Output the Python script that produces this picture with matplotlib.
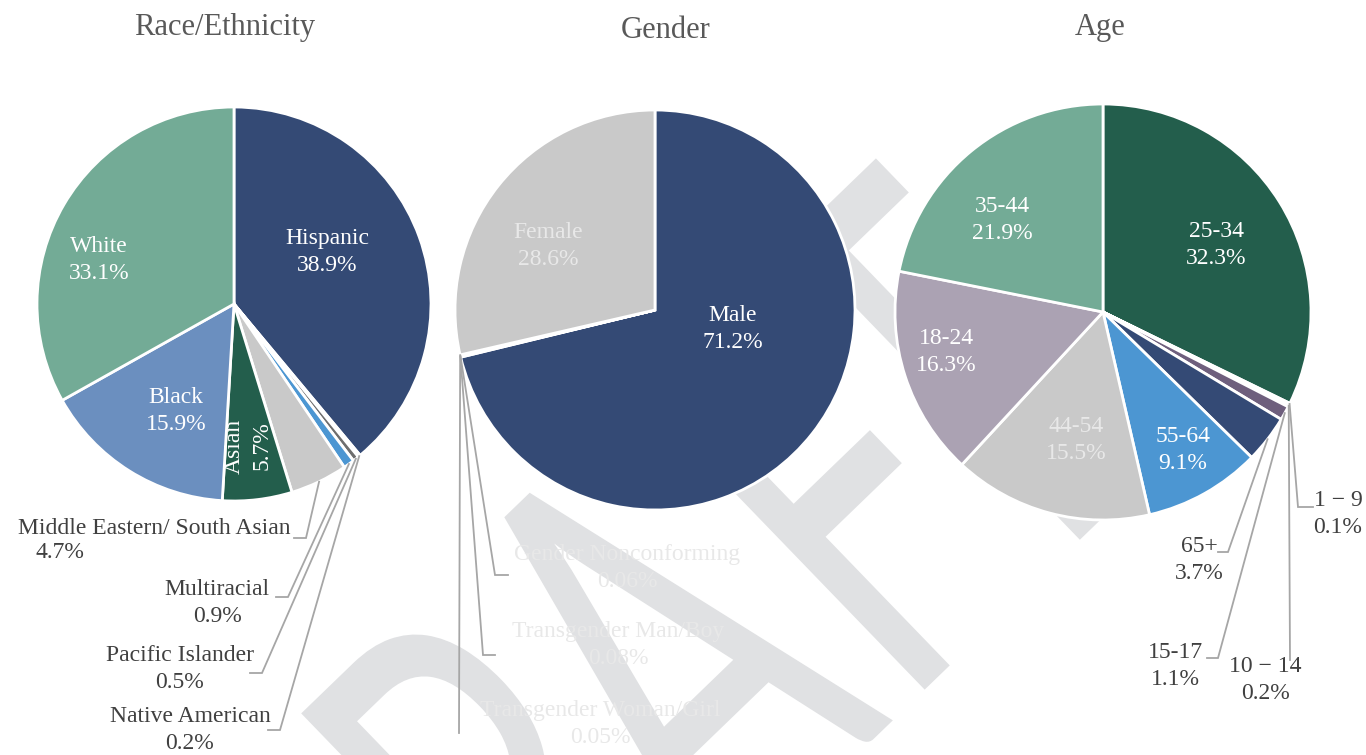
"""
Three pie charts: Race/Ethnicity, Gender and Age breakdown, with a DRAFT watermark.
"""

import numpy as np
import matplotlib.pyplot as plt
from matplotlib.textpath import TextPath
from matplotlib.font_manager import FontProperties
from matplotlib.patches import PathPatch
from matplotlib.transforms import Affine2D

W, H = 1366, 755
OUTPUT_PATH = "out.png"

plt.rcParams["font.family"] = ["Liberation Serif", "DejaVu Serif"]

# ---- data -----------------------------------------------------------------
RACE_LABELS = ["Hispanic", "Native American", "Pacific Islander", "Multiracial",
               "Middle Eastern/ South Asian", "Asian", "Black", "White"]
RACE_VALUES = [38.9, 0.2, 0.5, 0.9, 4.7, 5.7, 15.9, 33.1]
RACE_COLORS = ["#344a75", "#3a3a3a", "#6e6e6e", "#4c96d2",
               "#c9c9c9", "#235e4c", "#6b8fbf", "#73ab96"]

GENDER_LABELS = ["Male", "Gender Nonconforming", "Transgender Man/Boy",
                 "Transgender Woman/Girl", "Female"]
GENDER_VALUES = [71.2, 0.06, 0.08, 0.05, 28.6]
GENDER_COLORS = ["#344a75", "#a5a5a5", "#7f7f7f", "#5a5a5a", "#c9c9c9"]

AGE_LABELS = ["25-34", "1 \u2212 9", "10 \u2212 14", "15-17", "65+",
              "55-64", "44-54", "18-24", "35-44"]
AGE_VALUES = [32.3, 0.1, 0.2, 1.1, 3.7, 9.1, 15.5, 16.3, 21.9]
AGE_COLORS = ["#235e4c", "#c9c9c9", "#7f7f7f", "#6e5f7d", "#344a75",
              "#4c96d2", "#c9c9c9", "#aba2b3", "#73ab96"]

WATERMARK = "DRAFT"

# ---- layout (image pixel coords, y measured from top) ----------------------
LIGHT = "#e8e8e8"
DARK = "#404040"
LEADER = "#a6a6a6"

# ("in", x, y, color, rotation) or ("out", elbow, end, x, y[, color])
RACE_LAYOUT = [
    ("in", 327, 252, "white", 0),
    ("out", (280, 730), (268, 730), 190, 730),
    ("out", (262, 673), (250, 673), 180, 669),
    ("out", (288, 597), (276, 597), 217, 603),
    ("me", (306, 538), (294, 538), 0, 0),
    ("in", 248, 446, "white", 90),
    ("in", 176, 411, "white", 0),
    ("in", 99, 260, "white", 0),
]
GENDER_LAYOUT = [
    ("in", 733, 329, "white", 0),
    ("out", (495, 575), (508, 575), 627, 568, LIGHT),
    ("out", (483, 655), (495, 655), 618, 645, LIGHT),
    ("out", (459, 733), (459, 733), 600, 724, LIGHT),
    ("in", 548, 246, LIGHT, 0),
]
AGE_LAYOUT = [
    ("in", 1216, 245, "white", 0),
    ("out", (1298, 507), (1313, 507), 1338, 514),
    ("out", (1290, 660), (1290, 660), 1265, 680),
    ("out", (1218, 658), (1207, 658), 1175, 666),
    ("out", (1228, 552), (1218, 552), 1199, 560),
    ("in", 1183, 450, "white", 0),
    ("in", 1076, 440, LIGHT, 0),
    ("in", 946, 352, "white", 0),
    ("in", 1002, 220, "white", 0),
]

# watermark letters: (anchor, offset along baseline from the A apex, px)
WM_PLACES = [("left", -580), ("left", -300), ("center", 0),
             ("left", 165), ("center", 398)]

FS = 17
LS = 1.4


def Y(v):
    return H - v


def draw_pie(ax, title, title_pos, labels, values, colors, layout,
             center, radius, decimals):
    wedges, _ = ax.pie(values, colors=colors, startangle=90, counterclock=False,
                       center=(center[0], Y(center[1])), radius=radius, frame=True,
                       wedgeprops=dict(edgecolor="white", linewidth=2.0, zorder=2))
    ax.text(title_pos[0], Y(title_pos[1]), title, fontsize=22, color="#595959",
            ha="center", va="center", zorder=5)

    for w, lab, val, spec in zip(wedges, labels, values, layout):
        pct = f"{val:.{decimals if val < 1 else 1}f}%"
        kind = spec[0]
        if kind == "in":
            _, x, y, col, rot = spec
            ax.text(x, Y(y), f"{lab}\n{pct}", fontsize=FS, color=col, ha="center",
                    va="center", rotation=rot, linespacing=LS, zorder=5)
            continue
        mid = np.deg2rad((w.theta1 + w.theta2) / 2)
        sx = center[0] + radius * np.cos(mid)
        sy = Y(center[1]) + radius * np.sin(mid)
        elbow, end = spec[1], spec[2]
        ax.plot([sx, elbow[0], end[0]], [sy, Y(elbow[1]), Y(end[1])],
                color=LEADER, lw=1.3, zorder=4, solid_joinstyle="miter")
        if kind == "me":
            ax.text(291, Y(528), lab, fontsize=FS, color=DARK, ha="right",
                    va="center", zorder=5)
            ax.text(60, Y(553), pct, fontsize=FS, color=DARK, ha="center",
                    va="center", zorder=5)
        else:
            col = spec[5] if len(spec) > 5 else DARK
            ax.text(spec[3], Y(spec[4]), f"{lab}\n{pct}", fontsize=FS, color=col,
                    ha="center", va="center", linespacing=LS, zorder=5)


def draw_watermark(ax, apex=(517, 505), cap=416, squeeze=0.62, angle=44):
    fp = FontProperties(family=["Lato", "DejaVu Sans"])
    h0 = TextPath((0, 0), "A", size=100, prop=fp).get_extents().y1
    size = 100 * cap / h0
    t = np.deg2rad(angle)
    u = np.array([np.cos(t), np.sin(t)])
    d = np.array([np.sin(t), -np.cos(t)])
    top = np.array([apex[0], Y(apex[1])])
    for ch, (anchor, pos) in zip(WATERMARK, WM_PLACES):
        path = TextPath((0, 0), ch, size=size, prop=fp)
        ext = path.get_extents()
        ref = ext.x0 if anchor == "left" else (ext.x0 + ext.x1) / 2
        base = top + pos * u + cap * d
        tr = (Affine2D().translate(-ref, 0).scale(squeeze, 1)
              .rotate_deg(angle).translate(*base))
        ax.add_patch(PathPatch(path, facecolor="#e0e1e3", edgecolor="none",
                               transform=tr + ax.transData, zorder=0))


fig = plt.figure(figsize=(W / 100, H / 100), dpi=100)
ax = fig.add_axes([0, 0, 1, 1])

draw_watermark(ax)

draw_pie(ax, "Race/Ethnicity", (225, 27), RACE_LABELS, RACE_VALUES, RACE_COLORS,
         RACE_LAYOUT, (234, 304), 197, 1)
draw_pie(ax, "Gender", (666, 30), GENDER_LABELS, GENDER_VALUES, GENDER_COLORS,
         GENDER_LAYOUT, (655, 310), 200, 2)
draw_pie(ax, "Age", (1100, 27), AGE_LABELS, AGE_VALUES, AGE_COLORS,
         AGE_LAYOUT, (1103, 312), 208, 1)

ax.set_xlim(0, W)
ax.set_ylim(0, H)
ax.set_aspect("equal")
ax.axis("off")

fig.savefig(OUTPUT_PATH, dpi=100)
